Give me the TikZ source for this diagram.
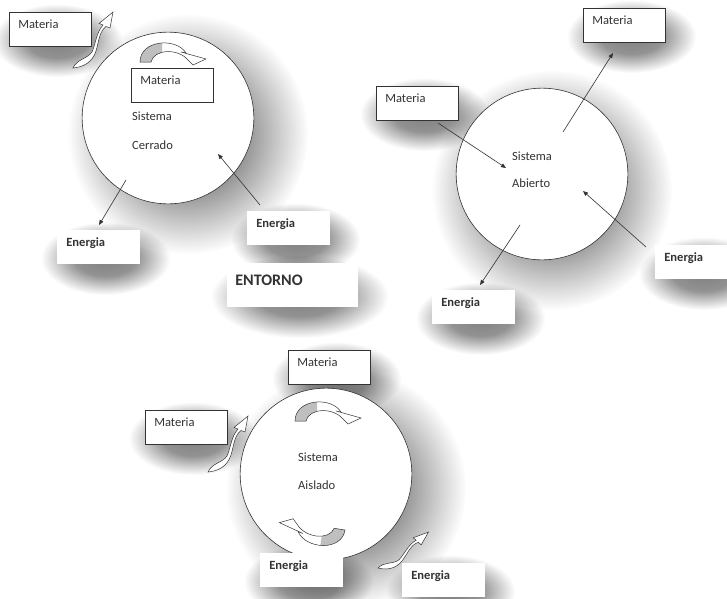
\documentclass[tikz,border=0pt]{standalone}
\usepackage{fontspec}
\setmainfont{Carlito}
\usetikzlibrary{positioning}
\usetikzlibrary{calc}
\usetikzlibrary{arrows.meta}
\usetikzlibrary{fadings}

\pgfdeclarelayer{shadow}
\pgfsetlayers{shadow,main}

\pgfdeclareradialshading{softdisc}{\pgfpoint{0bp}{0bp}}{color(0bp)=(pgftransparent!0); color(12bp)=(pgftransparent!15); color(25bp)=(pgftransparent!100); color(50bp)=(pgftransparent!100)}
\pgfdeclarefading{softfade}{\pgfuseshading{softdisc}}

\newcommand{\tfont}{\fontsize{12.5}{15}\selectfont}
\newcommand{\bendshape}{(0,0) .. controls (0,-22) and (36,-25) .. (46,-9) -- (41,-10) -- (66,-3) -- (53,3) -- (48,-2) .. controls (38,-14) and (14,-13) .. (11,0) -- cycle}
\newcommand{\curlshape}{(0,0) .. controls (10,-1) and (19,-5) .. (23,-17) .. controls (26,-27) and (26,-36) .. (33,-41.5) -- (37,-40) -- (40,-56) -- (26,-44.5) -- (30,-43) .. controls (23,-35) and (23,-25) .. (19,-16) .. controls (14,-9) and (4,-9) .. cycle}

\tikzset{
  softshadow/.style={fill=black, fill opacity=0.5, path fading=softfade},
  sys/.style={circle, draw=black!80, line width=0.6pt, fill=white, minimum size=171pt, inner sep=0pt},
  txt/.style={anchor=base west, inner sep=0pt, text=black!80},
  mbox/.style={draw=black!80, line width=0.6pt, fill=white, anchor=north west, text width=64pt, align=left,
    inner xsep=9pt, inner ysep=4pt, text height=12pt, text depth=14pt, text=black!80},
  ebox/.style={mbox, draw=none, font=\bfseries\tfont},
  arr/.style={-{Triangle[length=5pt, width=4pt]}, line width=0.6pt, draw=black!80},
  pics/bendarrow/.style={code={
    \fill[white] \bendshape;
    \begin{scope}
      \clip (-3,3) rectangle (22,-28);
      \fill[gray!50] \bendshape;
    \end{scope}
    \draw[line width=0.5pt, black!80] \bendshape;
  }},
  pics/curlarrow/.style={code={
    \filldraw[fill=white, draw=black!80, line width=0.5pt] \curlshape;
  }}
}

\begin{document}
\begin{tikzpicture}[x=0.035cm, y=-0.035cm, font=\tfont]
  \useasboundingbox (0,0) rectangle (727,598);

  % systems
  \node[sys] (tlSys) at (168,118) {};
  \node[sys] (trSys) at (542,174) {};
  \node[sys] (bSys) at (326,474) {};

  \node[txt] (tlLine1) at (132,120) {Sistema};
  \node[txt] (tlLine2) at (132,149) {Cerrado};
  \node[txt] (trLine1) at (512,160) {Sistema};
  \node[txt] (trLine2) at (512,187) {Abierto};
  \node[txt] (bLine1) at (298,461) {Sistema};
  \node[txt] (bLine2) at (298,489) {Aislado};

  % boxes
  \node[mbox] (tlMatOut) at (9,12) {Materia};
  \node[mbox] (tlMatIn) at (131,68) {Materia};
  \node[ebox] (tlEnOut) at (57,230) {Energia};
  \node[ebox] (tlEnIn) at (247,211) {Energia};
  \node[ebox, text width=114pt, inner xsep=8pt, text height=18pt, text depth=18pt,
    font=\bfseries\fontsize{16}{19}\selectfont] (entorno) at (227,263) {ENTORNO};

  \node[mbox] (trMatOut) at (583,8) {Materia};
  \node[mbox] (trMatIn) at (376,86) {Materia};
  \node[ebox] (trEnOut) at (432,290) {Energia};
  \node[ebox] (trEnIn) at (655,245) {Energia};

  \node[mbox] (bMatTop) at (288,350) {Materia};
  \node[mbox] (bMatLeft) at (145,410) {Materia};
  \node[ebox] (bEnLeft) at (260,553) {Energia};
  \node[ebox] (bEnRight) at (402,563) {Energia};

  % soft shadows
  \begin{pgfonlayer}{shadow}
    \fill[white] (0,0) rectangle (727,598);
    \foreach \s/\dx/\dy in {tlSys/20/16, trSys/10/16, bSys/20/14}
      \fill[softshadow] ($(\s)+(\dx,\dy)$) circle (120);
    \foreach \b in {tlMatOut, tlMatIn, tlEnOut, tlEnIn, entorno, trMatOut, trMatIn, trEnOut, trEnIn, bMatTop, bMatLeft, bEnLeft, bEnRight}
      \fill[softshadow] ($(\b.north west)+(-16,-8)$) rectangle ($(\b.south east)+(30,30)$);
  \end{pgfonlayer}

  % straight arrows
  \coordinate (tlEnOutA) at (126,180);
  \coordinate (tlEnOutB) at (99,225);
  \coordinate (tlEnInA) at (260,205);
  \coordinate (tlEnInB) at (218,154);
  \draw[arr] (tlEnOutA) -- (tlEnOutB);
  \draw[arr] (tlEnInA) -- (tlEnInB);

  \coordinate (trMatInA) at (438,123);
  \coordinate (trMatInB) at (506,168);
  \coordinate (trMatOutA) at (563,132);
  \coordinate (trMatOutB) at (613,53);
  \coordinate (trEnInA) at (646,247);
  \coordinate (trEnInB) at (583,191);
  \coordinate (trEnOutA) at (520,225);
  \coordinate (trEnOutB) at (480,285);
  \draw[arr] (trMatInA) -- (trMatInB);
  \draw[arr] (trMatOutA) -- (trMatOutB);
  \draw[arr] (trEnInA) -- (trEnInB);
  \draw[arr] (trEnOutA) -- (trEnOutB);

  % block arrows
  \pic at (140,62) {bendarrow};
  \pic at (295,421) {bendarrow};
  \pic[rotate=171] at (345,530) {bendarrow};
  \pic at (73,68) {curlarrow};
  \pic at (208,472) {curlarrow};
  \pic[rotate=-19, scale=0.9] at (378,568) {curlarrow};
\end{tikzpicture}
\end{document}
